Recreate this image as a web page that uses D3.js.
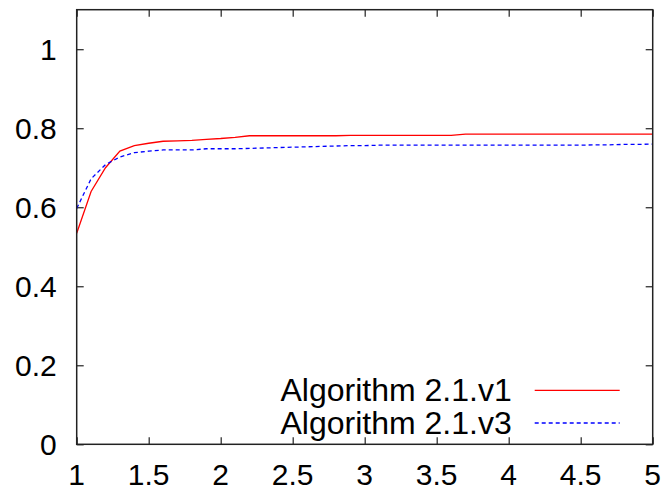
<!DOCTYPE html>
<html>
<head>
<meta charset="utf-8">
<script src="https://cdn.jsdelivr.net/npm/d3@7"></script>
<style>
  body { margin: 0; background: #fff; }
  svg { display: block; font-family: "Liberation Sans", Arial, sans-serif; }
</style>
</head>
<body>
<script>
// x samples and the two series
var xs = [1.0, 1.1, 1.2, 1.3, 1.4, 1.5, 1.6, 1.7, 1.8, 1.9,
  2.0, 2.1, 2.2, 2.3, 2.4, 2.5, 2.6, 2.7, 2.8, 2.9,
  3.0, 3.1, 3.2, 3.3, 3.4, 3.5, 3.6, 3.7, 3.8, 3.9,
  4.0, 4.1, 4.2, 4.3, 4.4, 4.5, 4.6, 4.7, 4.8, 4.9, 5.0];
var v1 = [0.534, 0.640, 0.700, 0.742, 0.756, 0.762, 0.767, 0.768, 0.769, 0.772,
  0.774, 0.777, 0.781, 0.781, 0.781, 0.781, 0.781, 0.781, 0.781, 0.782,
  0.782, 0.782, 0.782, 0.782, 0.782, 0.782, 0.782, 0.785, 0.785, 0.785,
  0.785, 0.785, 0.785, 0.785, 0.785, 0.785, 0.785, 0.785, 0.785, 0.785, 0.785];
var v3 = [0.597, 0.672, 0.708, 0.727, 0.738, 0.742, 0.745, 0.745, 0.745, 0.748,
  0.748, 0.748, 0.749, 0.750, 0.751, 0.752, 0.753, 0.754, 0.755, 0.756,
  0.756, 0.757, 0.757, 0.757, 0.757, 0.757, 0.757, 0.757, 0.757, 0.757,
  0.757, 0.757, 0.757, 0.757, 0.757, 0.757, 0.758, 0.758, 0.759, 0.759, 0.760];
var seriesNames = ["Algorithm 2.1.v1", "Algorithm 2.1.v3"];
var xTicks = [1, 1.5, 2, 2.5, 3, 3.5, 4, 4.5, 5];
var yTicks = [0, 0.2, 0.4, 0.6, 0.8, 1];

var width = 666, height = 495;
var margin = { top: 9.7, right: 13.3, bottom: 50.7, left: 76.7 };
var w = width - margin.left - margin.right;
var h = height - margin.top - margin.bottom;

var svg = d3.select("body").append("svg")
  .attr("width", width)
  .attr("height", height);

var g = svg.append("g")
  .attr("transform", "translate(" + margin.left + "," + margin.top + ")");

var x = d3.scaleLinear().domain([1, 5]).range([0, w]);
var y = d3.scaleLinear().domain([0, 1.1]).range([h, 0]);

var tickLen = 7;

// ticks on all four sides (gnuplot mirror style), pointing inwards
function styleAxis(sel) {
  sel.select(".domain").remove();
  sel.selectAll(".tick line").attr("stroke", "#222").attr("stroke-width", 1.2);
}

g.append("g")
  .attr("transform", "translate(0," + h + ")")
  .call(d3.axisBottom(x).tickValues(xTicks).tickSize(-tickLen).tickFormat(""))
  .call(styleAxis);
g.append("g")
  .call(d3.axisTop(x).tickValues(xTicks).tickSize(-tickLen).tickFormat(""))
  .call(styleAxis);
g.append("g")
  .call(d3.axisLeft(y).tickValues(yTicks).tickSize(-tickLen).tickFormat(""))
  .call(styleAxis);
g.append("g")
  .attr("transform", "translate(" + w + ",0)")
  .call(d3.axisRight(y).tickValues(yTicks).tickSize(-tickLen).tickFormat(""))
  .call(styleAxis);

// tick labels
g.selectAll(".xlab")
  .data(xTicks)
  .enter()
  .append("text")
  .attr("class", "xlab")
  .attr("x", function (d) { return x(d); })
  .attr("y", h + 41)
  .attr("text-anchor", "middle")
  .style("font-size", "30px")
  .text(function (d) { return d; });

g.selectAll(".ylab")
  .data(yTicks)
  .enter()
  .append("text")
  .attr("class", "ylab")
  .attr("x", -20)
  .attr("y", function (d) { return y(d) + 11; })
  .attr("text-anchor", "end")
  .style("font-size", "30px")
  .text(function (d) { return d; });

// lines
var line = d3.line()
  .x(function (d) { return x(d[0]); })
  .y(function (d) { return y(d[1]); });

var series = [
  { name: seriesNames[0], values: d3.zip(xs, v1), color: "#ff0000", dash: null },
  { name: seriesNames[1], values: d3.zip(xs, v3), color: "#0000ff", dash: "4,3" }
];

g.selectAll(".series")
  .data(series)
  .enter()
  .append("path")
  .attr("class", "series")
  .attr("d", function (d) { return line(d.values); })
  .attr("fill", "none")
  .attr("stroke", function (d) { return d.color; })
  .attr("stroke-width", 1.3)
  .attr("stroke-dasharray", function (d) { return d.dash; });

// frame
g.append("rect")
  .attr("width", w)
  .attr("height", h)
  .attr("fill", "none")
  .attr("stroke", "#222")
  .attr("stroke-width", 1.5);

// legend
var legend = g.append("g")
  .attr("transform", "translate(" + (w - 141) + "," + (h - 54) + ")");

var item = legend.selectAll(".item")
  .data(series)
  .enter()
  .append("g")
  .attr("class", "item")
  .attr("transform", function (d, i) { return "translate(0," + i * 32.7 + ")"; });

item.append("text")
  .attr("x", 0)
  .attr("y", 11)
  .attr("text-anchor", "end")
  .style("font-size", "32px")
  .text(function (d) { return d.name; });

item.append("line")
  .attr("x1", 23)
  .attr("x2", 108)
  .attr("y1", 0)
  .attr("y2", 0)
  .attr("stroke", function (d) { return d.color; })
  .attr("stroke-width", 1.3)
  .attr("stroke-dasharray", function (d) { return d.dash; });
</script>
</body>
</html>
